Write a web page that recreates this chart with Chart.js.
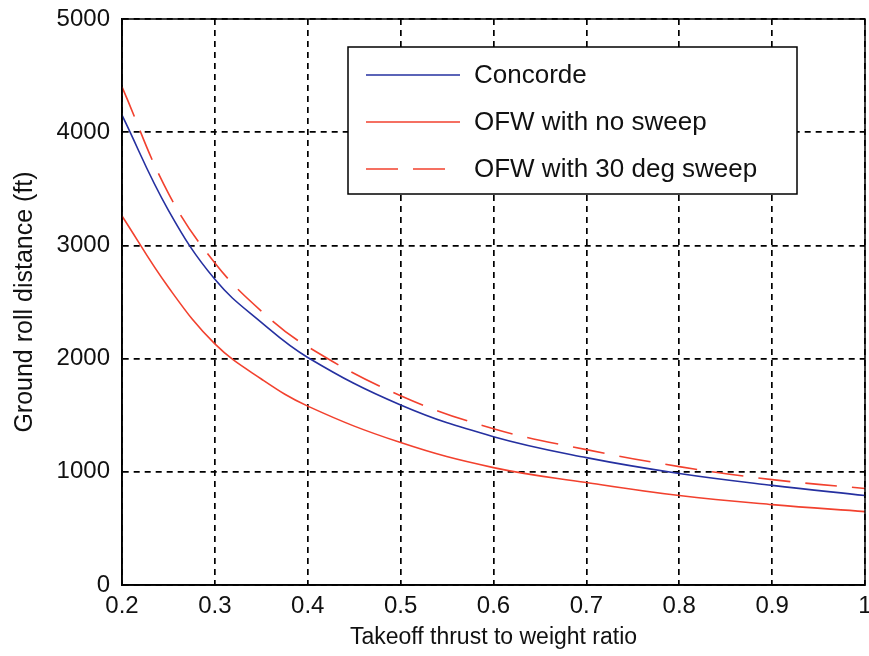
<!DOCTYPE html>
<html>
<head>
<meta charset="utf-8">
<script src="https://cdn.jsdelivr.net/npm/chart.js@4/dist/chart.umd.min.js"></script>
<style>
  html, body { margin: 0; padding: 0; background: #fff; }
  #wrap { width: 869px; height: 656px; }
</style>
</head>
<body>
<div id="wrap"><canvas id="rollChart" width="869" height="656"></canvas></div>
<script>
// thrust-to-weight values
const twRatio = [0.2, 0.25, 0.3, 0.35, 0.4, 0.5, 0.6, 0.7, 0.8, 0.9, 1.0];
const concorde = [4150, 3310, 2700, 2320, 2010, 1590, 1310, 1125, 985, 880, 790];
const ofwNoSweep = [3260, 2630, 2130, 1820, 1580, 1258, 1037, 905, 790, 710, 648];
const ofwSweep30 = [4400, 3460, 2845, 2420, 2105, 1672, 1381, 1196, 1046, 931, 852];
const seriesNames = ['Concorde', 'OFW with no sweep', 'OFW with 30 deg sweep'];

const FONT = "'Liberation Sans', Arial, sans-serif";

function toPoints(vals) {
    return twRatio.map(function (x, i) { return { x: x, y: vals[i] }; });
}

// solid frame round the plot + matlab style legend box
const frameAndLegend = {
    id: 'frameAndLegend',
    afterDraw: function (chart) {
        const ctx = chart.ctx;
        const a = chart.chartArea;
        ctx.save();
        ctx.strokeStyle = '#000';
        ctx.lineWidth = 1.5;
        ctx.setLineDash([]);
        ctx.strokeRect(a.left, a.top, a.right - a.left, a.bottom - a.top);

        // legend
        const bx = 348, by = 47, bw = 449, bh = 147;
        ctx.fillStyle = '#fff';
        ctx.fillRect(bx, by, bw, bh);
        ctx.strokeRect(bx, by, bw, bh);
        ctx.font = '26px ' + FONT;
        ctx.textBaseline = 'middle';
        chart.data.datasets.forEach(function (ds, i) {
            const y = by + 28 + i * 47;
            ctx.strokeStyle = ds.borderColor;
            ctx.lineWidth = 1.5;
            ctx.setLineDash(ds.borderDash || []);
            ctx.beginPath();
            ctx.moveTo(366, y);
            ctx.lineTo(460, y);
            ctx.stroke();
            ctx.setLineDash([]);
            ctx.fillStyle = '#111';
            ctx.fillText(ds.label, 474, y + 1);
        });
        ctx.restore();
    }
};

const gridOpts = {
    color: '#000',
    lineWidth: 1.7,
    drawTicks: false
};

const ctx = document.getElementById('rollChart');
const rollChart = new Chart(ctx, {
    type: 'line',
    data: {
        datasets: [
            {
                label: seriesNames[0],
                data: toPoints(concorde),
                borderColor: '#2530a0',
                borderWidth: 1.6,
                pointRadius: 0,
                fill: false,
                tension: 0.4
            },
            {
                label: seriesNames[1],
                data: toPoints(ofwNoSweep),
                borderColor: '#f2412e',
                borderWidth: 1.6,
                pointRadius: 0,
                fill: false,
                tension: 0.4
            },
            {
                label: seriesNames[2],
                data: toPoints(ofwSweep30),
                borderColor: '#f2412e',
                borderWidth: 1.6,
                borderDash: [32, 15],
                pointRadius: 0,
                fill: false,
                tension: 0.4
            }
        ]
    },
    options: {
        responsive: false,
        animation: false,
        layout: { padding: { top: 19, right: 4, left: 0, bottom: 0 } },
        plugins: {
            legend: { display: false },
            tooltip: { enabled: false }
        },
        scales: {
            x: {
                type: 'linear',
                min: 0.2,
                max: 1,
                afterFit: function (s) {
                    s.height = 71;
                    s.paddingRight = 0;
                    s.paddingLeft = 0;
                },
                ticks: {
                    stepSize: 0.1,
                    color: '#111',
                    padding: 7,
                    maxRotation: 0,
                    font: { family: FONT, size: 24 },
                    callback: function (v) { return String(Number(v.toFixed(1))); }
                },
                grid: gridOpts,
                border: { display: true, color: '#000', width: 1.7, dash: [6, 5] },
                title: {
                    display: true,
                    text: 'Takeoff thrust to weight ratio',
                    color: '#111',
                    padding: { top: 0, bottom: 5 },
                    font: { family: FONT, size: 23 }
                }
            },
            y: {
                min: 0,
                max: 5000,
                afterFit: function (s) {
                    s.width = 122;
                    s.paddingTop = 0;
                    s.paddingBottom = 0;
                },
                ticks: {
                    stepSize: 1000,
                    color: '#111',
                    padding: 12,
                    font: { family: FONT, size: 24 },
                    callback: function (v) { return String(v); }
                },
                grid: gridOpts,
                border: { display: true, color: '#000', width: 1.7, dash: [6, 5] },
                title: {
                    display: true,
                    text: 'Ground roll distance (ft)',
                    color: '#111',
                    padding: { top: 10, bottom: 0 },
                    font: { family: FONT, size: 25 }
                }
            }
        }
    },
    plugins: [frameAndLegend]
});
</script>
</body>
</html>
